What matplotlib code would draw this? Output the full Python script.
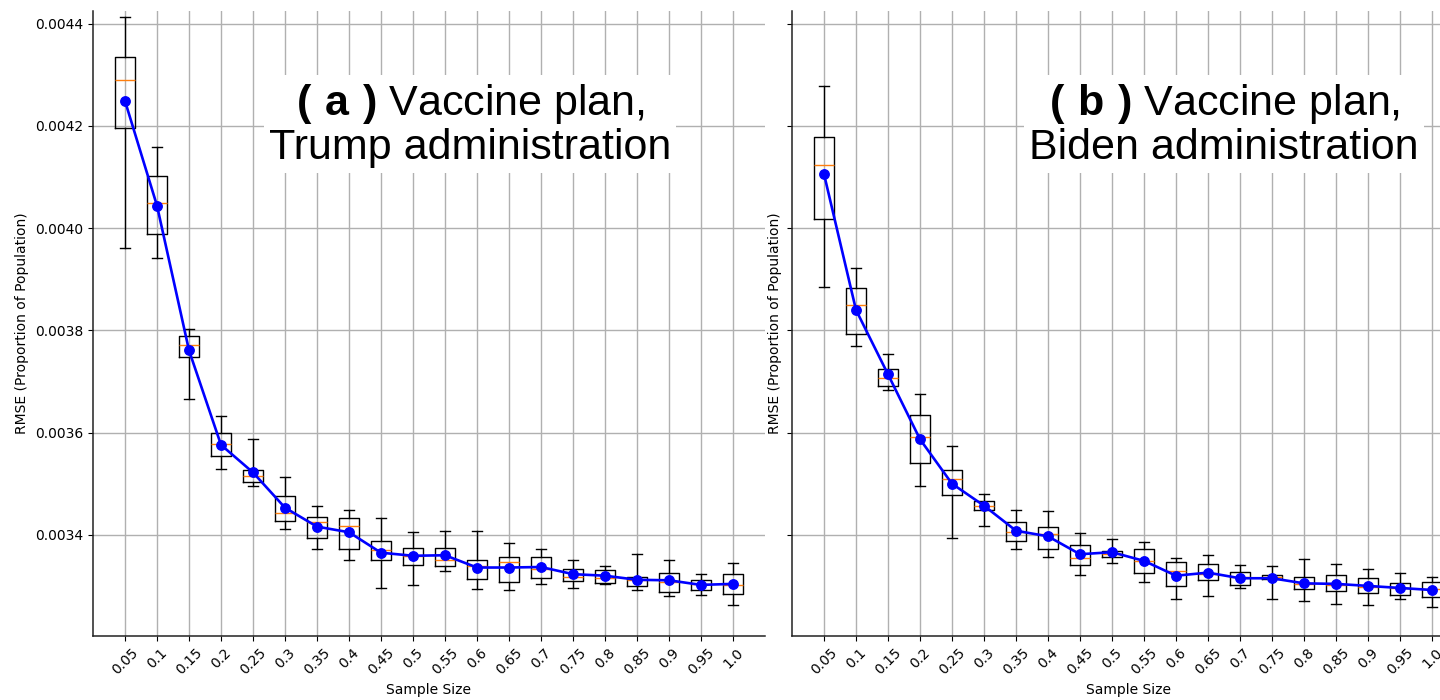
import numpy as np
import matplotlib.pyplot as plt
from matplotlib.ticker import FormatStrFormatter

sample_sizes = ['0.05', '0.1', '0.15', '0.2', '0.25', '0.3', '0.35', '0.4', '0.45', '0.5',
                '0.55', '0.6', '0.65', '0.7', '0.75', '0.8', '0.85', '0.9', '0.95', '1.0']

# RMSE summaries per sample size, Trump administration plan
trump_whishi = [0.004413, 0.004158, 0.003802, 0.003633, 0.003588, 0.003514, 0.003457, 0.003448, 0.003432, 0.003406,
                0.003408, 0.003408, 0.003384, 0.003373, 0.003351, 0.003339, 0.003362, 0.003351, 0.003323, 0.003345]
trump_q3 = [0.004335, 0.004102, 0.003790, 0.003600, 0.003526, 0.003475, 0.003434, 0.003432, 0.003387, 0.003375,
            0.003375, 0.003351, 0.003356, 0.003356, 0.003333, 0.003332, 0.003317, 0.003326, 0.003311, 0.003323]
trump_med = [0.004290, 0.004049, 0.003771, 0.003578, 0.003516, 0.003443, 0.003425, 0.003418, 0.003371, 0.003359,
             0.003351, 0.003338, 0.003347, 0.003333, 0.003318, 0.003316, 0.003311, 0.003307, 0.003304, 0.003301]
trump_q1 = [0.004196, 0.003988, 0.003747, 0.003555, 0.003504, 0.003428, 0.003394, 0.003373, 0.003350, 0.003341,
            0.003338, 0.003314, 0.003307, 0.003315, 0.003309, 0.003305, 0.003300, 0.003288, 0.003292, 0.003285]
trump_whislo = [0.003961, 0.003941, 0.003666, 0.003529, 0.003496, 0.003411, 0.003373, 0.003350, 0.003295, 0.003301,
                0.003330, 0.003293, 0.003292, 0.003304, 0.003296, 0.003304, 0.003292, 0.003281, 0.003283, 0.003263]
trump_mean = [0.004249, 0.004044, 0.003761, 0.003576, 0.003522, 0.003453, 0.003416, 0.003405, 0.003365, 0.003359,
              0.003360, 0.003336, 0.003336, 0.003337, 0.003323, 0.003320, 0.003312, 0.003311, 0.003302, 0.003304]

# same for the Biden administration plan
biden_whishi = [0.004279, 0.003922, 0.003754, 0.003676, 0.003573, 0.003479, 0.003448, 0.003446, 0.003404, 0.003391,
                0.003386, 0.003354, 0.003360, 0.003341, 0.003338, 0.003352, 0.003343, 0.003334, 0.003326, 0.003318]
biden_q3 = [0.004178, 0.003883, 0.003725, 0.003634, 0.003526, 0.003467, 0.003425, 0.003415, 0.003380, 0.003369,
            0.003373, 0.003346, 0.003342, 0.003328, 0.003322, 0.003317, 0.003321, 0.003315, 0.003305, 0.003307]
biden_med = [0.004123, 0.003849, 0.003706, 0.003591, 0.003509, 0.003457, 0.003406, 0.003402, 0.003354, 0.003362,
             0.003348, 0.003330, 0.003323, 0.003317, 0.003318, 0.003304, 0.003301, 0.003297, 0.003296, 0.003293]
biden_q1 = [0.004018, 0.003792, 0.003692, 0.003541, 0.003478, 0.003448, 0.003388, 0.003373, 0.003341, 0.003356,
            0.003325, 0.003299, 0.003311, 0.003302, 0.003313, 0.003293, 0.003291, 0.003286, 0.003283, 0.003279]
biden_whislo = [0.003884, 0.003769, 0.003683, 0.003496, 0.003393, 0.003418, 0.003373, 0.003356, 0.003322, 0.003345,
                0.003307, 0.003275, 0.003281, 0.003296, 0.003275, 0.003271, 0.003265, 0.003263, 0.003275, 0.003258]
biden_mean = [0.004106, 0.003840, 0.003714, 0.003587, 0.003500, 0.003457, 0.003408, 0.003397, 0.003362, 0.003366,
              0.003349, 0.003320, 0.003326, 0.003315, 0.003315, 0.003305, 0.003304, 0.003300, 0.003296, 0.003292]

plt.rcParams['mathtext.fontset'] = 'custom'
plt.rcParams['mathtext.rm'] = 'Liberation Sans'
plt.rcParams['mathtext.bf'] = 'Liberation Sans:bold'


def make_stats(whislo, q1, med, q3, whishi):
    return [dict(whislo=a, q1=b, med=c, q3=d, whishi=e, fliers=[])
            for a, b, c, d, e in zip(whislo, q1, med, q3, whishi)]


def draw_panel(ax, stats, mean, label, tx, ty):
    pos = np.arange(1, len(stats) + 1)
    ax.bxp(stats, positions=pos, widths=0.62, showfliers=False,
           medianprops=dict(color='#ff7f0e', linewidth=1.0))
    ax.plot(pos, mean, color='blue', marker='o', markersize=6.8, linewidth=1.9, zorder=4)
    ax.set_xlim(0, 21)
    ax.set_xticks(pos)
    ax.set_xticklabels(sample_sizes, rotation=45, fontsize=10)
    ax.set_xlabel('Sample Size', fontsize=10)
    ax.set_ylabel('RMSE (Proportion of Population)', fontsize=10)
    ax.grid(True, color='#b0b0b0', linewidth=1.0)
    ax.spines['top'].set_visible(False)
    ax.spines['right'].set_visible(False)
    for s in ('left', 'bottom'):
        ax.spines[s].set_linewidth(1.1)
        ax.spines[s].set_color('#222222')
    ax.text(tx, ty, r'$\mathbf{(\ ' + label + r'\ )}$ Vaccine plan,' + '\n' +
            ('Trump' if label == 'a' else 'Biden') + ' administration',
            transform=ax.transAxes, ha='center', va='center', fontsize=31,
            family='Liberation Sans', linespacing=1.05, zorder=5,
            bbox=dict(boxstyle='square,pad=0.12', facecolor='white', edgecolor='none'))


fig = plt.figure(figsize=(14.4, 7), dpi=100)
ax1 = fig.add_axes([93 / 1440, 64 / 700, 672 / 1440, 625 / 700])
ax2 = fig.add_axes([792 / 1440, 64 / 700, 672 / 1440, 625 / 700], sharey=ax1)

draw_panel(ax1, make_stats(trump_whislo, trump_q1, trump_med, trump_q3, trump_whishi),
           trump_mean, 'a', 0.561, 0.818)
draw_panel(ax2, make_stats(biden_whislo, biden_q1, biden_med, biden_q3, biden_whishi),
           biden_mean, 'b', 0.643, 0.818)

ax1.set_ylim(0.003202, 0.004425)
ax1.set_yticks([0.0034, 0.0036, 0.0038, 0.0040, 0.0042, 0.0044])
ax1.yaxis.set_major_formatter(FormatStrFormatter('%.4f'))
ax1.tick_params(axis='y', labelsize=10)
ax2.tick_params(axis='y', labelleft=False)

fig.savefig('out.png', dpi=100)
